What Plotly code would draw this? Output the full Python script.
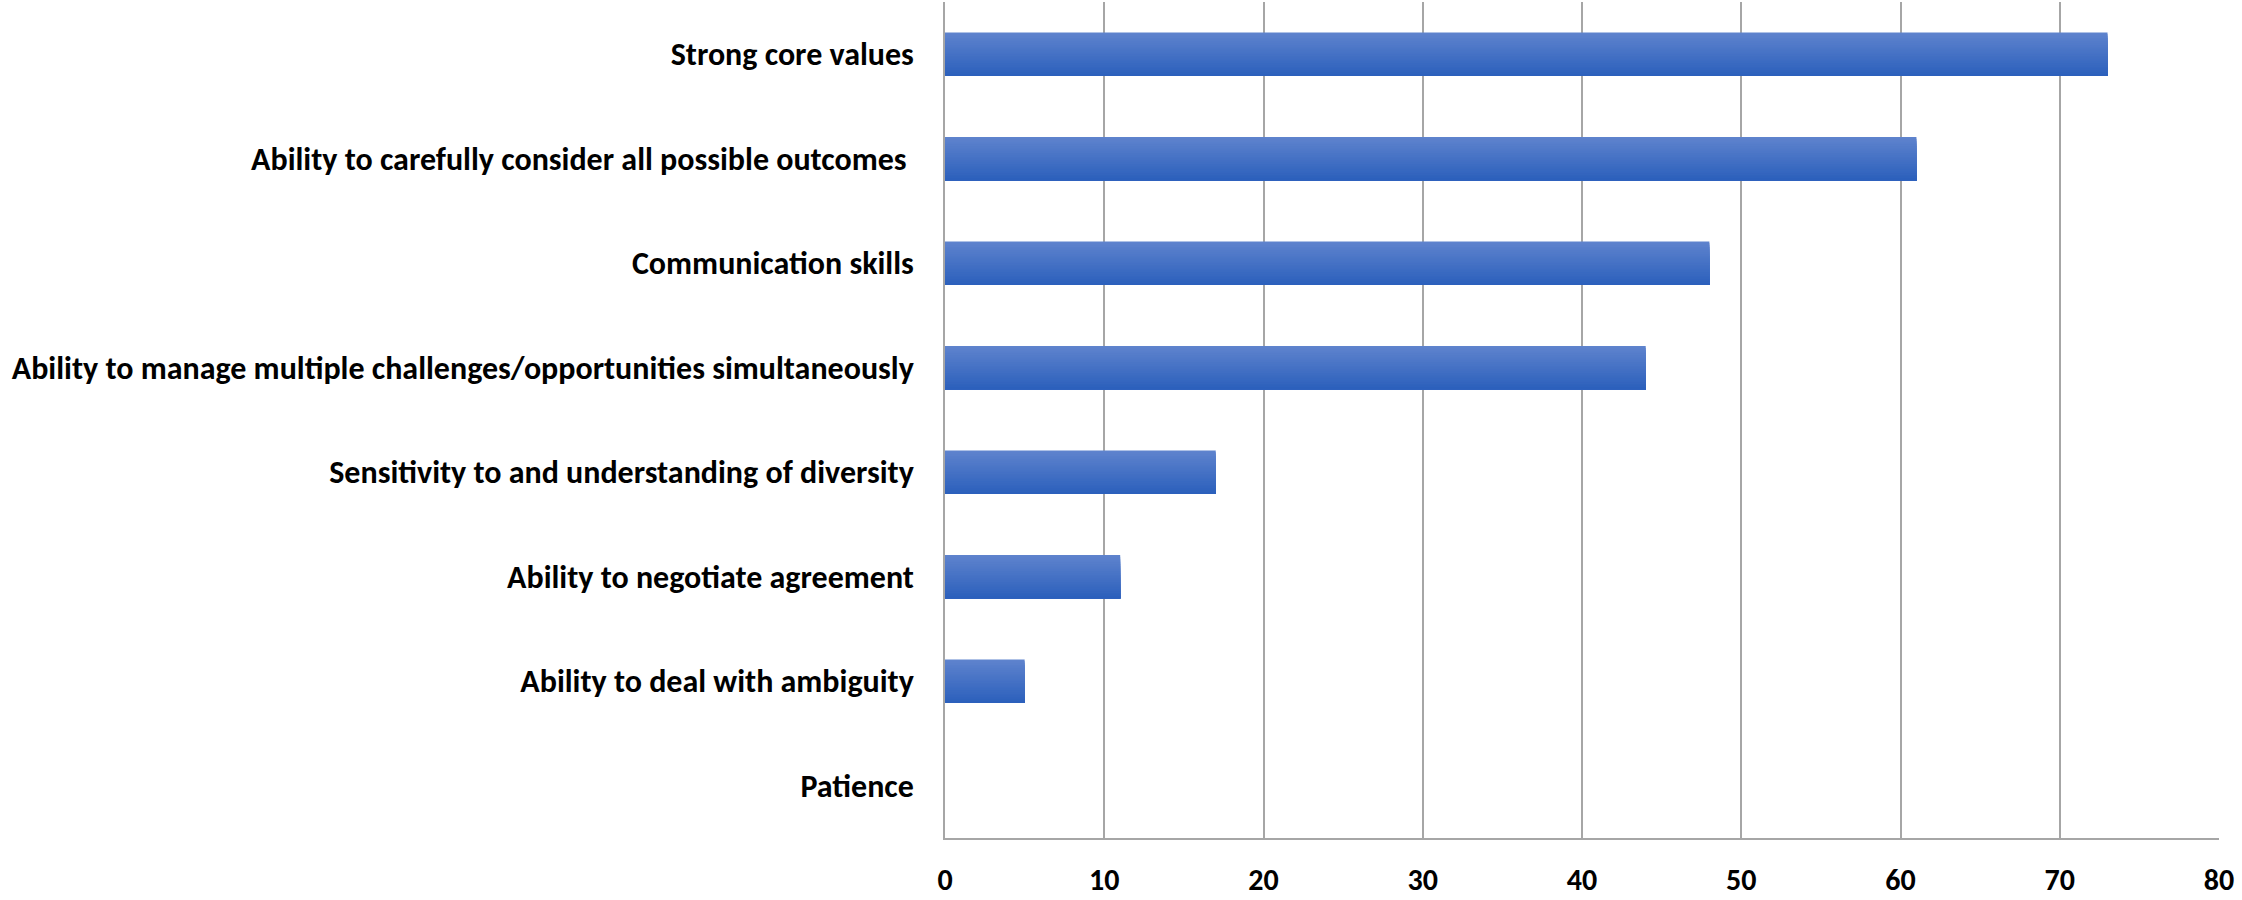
import plotly.graph_objects as go

# Survey results: leadership qualities ranked by number of responses
categories = [
    "Strong core values",
    "Ability to carefully consider all possible outcomes\u00a0",
    "Communication skills",
    "Ability to manage multiple challenges/opportunities simultaneously",
    "Sensitivity to and understanding of diversity",
    "Ability to negotiate agreement",
    "Ability to deal with ambiguity",
    "Patience",
]
responses = [73, 61, 48, 44, 17, 11, 5, 0]
x_ticks = [0, 10, 20, 30, 40, 50, 60, 70, 80]

FONT = "Carlito, Calibri, Lato, sans-serif"

# Vertical gradient on each bar: overlaid layers, each starting a little lower
# and running to the bar's bottom edge, from light (top) to dark (bottom)
top_rgb = (94, 131, 205)
bot_rgb = (44, 96, 188)
bar_width = 0.415
n_layers = 24
step = bar_width / n_layers

fig = go.Figure()
for i in range(n_layers):
    t = i / (n_layers - 1)
    r, g, b = (round(a + (c - a) * t) for a, c in zip(top_rgb, bot_rgb))
    fig.add_trace(go.Bar(
        x=responses,
        y=categories,
        orientation="h",
        width=bar_width - i * step,
        offset=-bar_width / 2 + i * step,
        marker=dict(color=f"rgb({r},{g},{b})", line=dict(width=0)),
        hoverinfo="x+y",
        showlegend=False,
    ))

fig.update_layout(
    width=2242,
    height=900,
    barmode="overlay",
    plot_bgcolor="white",
    paper_bgcolor="white",
    margin=dict(l=945, r=23, t=2, b=49),
    font=dict(family=FONT, size=32, color="black"),
    xaxis=dict(
        range=[0, 80],
        tickvals=x_ticks,
        ticktext=[f"<b>{v}</b>" for v in x_ticks],
        showgrid=True,
        gridcolor="#a6a6a6",
        gridwidth=1.5,
        showline=True,
        linecolor="#a6a6a6",
        linewidth=1.5,
        zeroline=False,
        ticks="",
        ticklabelstandoff=14,
        tickfont=dict(family=FONT, size=30, color="black"),
    ),
    yaxis=dict(
        categoryorder="array",
        categoryarray=categories,
        tickvals=categories,
        ticktext=[f"<b>{c}</b>" for c in categories],
        autorange="reversed",
        showgrid=False,
        showline=True,
        linecolor="#a6a6a6",
        linewidth=1.5,
        zeroline=False,
        ticks="",
        ticklabelstandoff=23,
        tickfont=dict(family=FONT, size=32, color="black"),
    ),
)

fig.write_html("out.html")
